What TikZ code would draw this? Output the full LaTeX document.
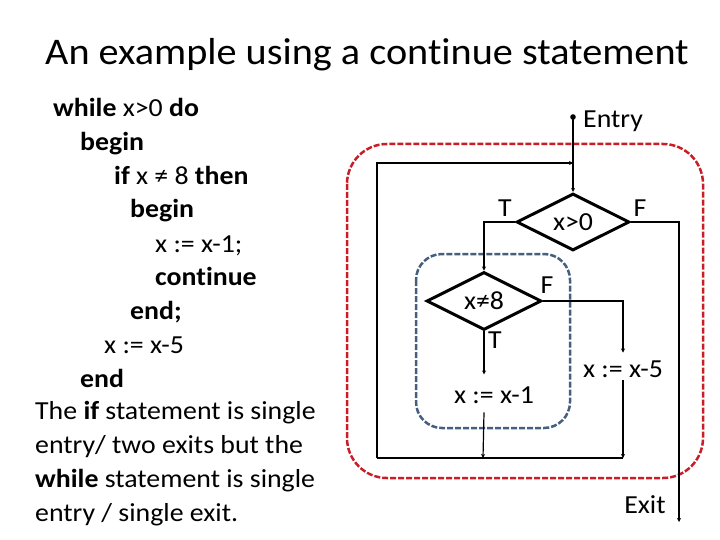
\documentclass[tikz,border=0pt]{standalone}
\usepackage{fontspec}
\setmainfont{Carlito}[FakeStretch=1.07,Ligatures=NoCommon]
\usetikzlibrary{shapes.geometric,arrows.meta}
\definecolor{redbox}{RGB}{200,30,40}
\definecolor{bluebox}{RGB}{70,95,125}
\tikzset{
  codeline/.style={anchor=base west,inner sep=0pt,font=\fontsize{26}{30}\selectfont},
  lbl/.style={inner sep=0pt,font=\fontsize{26}{30}\selectfont},
  stmt/.style={anchor=base,inner sep=0pt,font=\fontsize{26}{30}\selectfont},
  dia/.style={diamond,draw,line width=3pt,inner sep=0pt,font=\fontsize{26}{30}\selectfont},
  conn/.style={line width=1.2pt},
  arr/.style={line width=1.2pt,-{Stealth[length=4pt,width=4pt]}},
  redbox/.style={draw=redbox,line width=2.5pt,dash pattern=on 6pt off 2pt,rounded corners=40pt},
  bluebox/.style={draw=bluebox,line width=2.5pt,dash pattern=on 6pt off 2pt,rounded corners=26pt}
}
\begin{document}
\begin{tikzpicture}[x=1pt,y=-1pt]
\useasboundingbox (0,0) rectangle (720,540);
% title
\node[anchor=base,inner sep=0pt,font=\fontsize{37.6}{42}\selectfont] (title) at (367,65) {An example using a continue statement};
% code
\node[codeline] (c1) at (53,117) {\textbf{while} x>0 \textbf{do}};
\node[codeline] (c2) at (80,150.7) {\textbf{begin}};
\node[codeline] (c3) at (114,184.4) {\textbf{if} x ≠ 8 \textbf{then}};
\node[codeline] (c4) at (130,218) {\textbf{begin}};
\node[codeline] (c5) at (155,252) {x := x-1;};
\node[codeline] (c6) at (155,285.5) {\textbf{continue}};
\node[codeline] (c7) at (130,319) {\textbf{end;}};
\node[codeline] (c8) at (104,353) {x := x-5};
\node[codeline] (c9) at (80,387) {\textbf{end}};
\node[codeline] (c10) at (35,419) {The \textbf{if} statement is single};
\node[codeline] (c11) at (35,453) {entry/ two exits but the};
\node[codeline] (c12) at (35,487) {\textbf{while} statement is single};
\node[codeline] (c13) at (35,521) {entry / single exit.};
% boxes
\draw[redbox] (347,144) rectangle (703,478);
\draw[bluebox] (416,254) rectangle (570,428);
% diamonds
\node[dia,minimum width=113pt,minimum height=57pt] (d1) at (573,222) {x>0};
\node[dia,minimum width=115pt,minimum height=56pt] (d2) at (484,301) {x≠8};
% statements
\node[stmt] (s1) at (494,403) {x := x-1};
\node[stmt] (s5) at (623,377) {x := x-5};
% labels
\node[lbl] (t1) at (505,208) {T};
\node[lbl] (f1) at (640,208) {F};
\node[lbl] (f2) at (547,285) {F};
\node[lbl] (t2) at (495,340) {T};
\node[lbl,anchor=west] (entrylbl) at (583,121) {Entry};
\node[lbl] (exitlbl) at (645,505) {Exit};
% coordinates
\coordinate (entry) at (573,117);
\coordinate (jn) at (573,163);
\coordinate (lt) at (377,163);
\coordinate (lb) at (377,458);
\coordinate (exit) at (679,522);
\coordinate (m1) at (483,458);
\coordinate (m5) at (623,458);
\fill (entry) circle (2.8pt);
% connectors
\draw[arr] (entry) -- (d1.north);
\draw[arr] (lb) -- (lt) -- (jn);
\draw[arr] (d1.west) -| (d2.north);
\draw[arr] (d1.east) -| (exit);
\draw[arr] (d2.south) -- ([yshift=11.6pt]d2.south |- s1.north);
\draw[arr] ([yshift=-9pt]d2.south |- s1.south) -- (m1);
\draw[arr] (d2.east) -| ([yshift=7.6pt]s5.north);
\draw[arr] ([yshift=-3pt]s5.south) -- (m5);
\draw[conn] (lb) -- (m5);
\end{tikzpicture}
\end{document}
